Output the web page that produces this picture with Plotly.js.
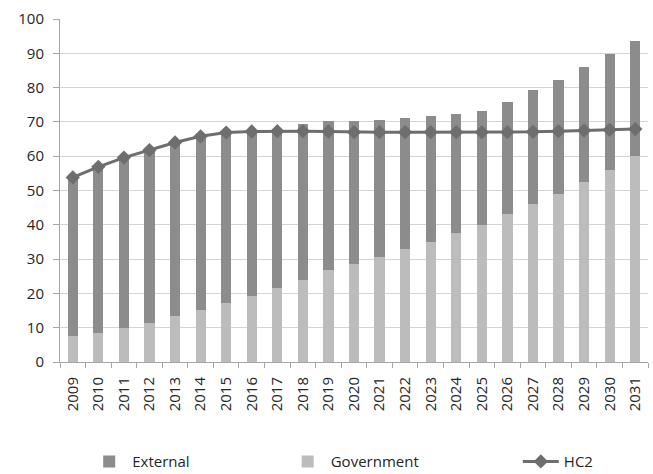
<!DOCTYPE html>
<html>
<head>
<meta charset="utf-8">
<script src="https://cdn.plot.ly/plotly-3.0.1.min.js"></script>
<style>html,body{margin:0;padding:0;background:#fff;} #chart{width:653px;height:474px;}</style>
</head>
<body>
<div id="chart"></div>
<script>
const years = ["2009","2010","2011","2012","2013","2014","2015","2016","2017","2018","2019","2020","2021","2022","2023","2024","2025","2026","2027","2028","2029","2030","2031"];
const government = [7.5, 8.6, 9.9, 11.5, 13.3, 15.3, 17.2, 19.2, 21.7, 24.0, 26.9, 28.7, 30.6, 32.9, 35.0, 37.7, 39.9, 43.1, 46.0, 49.1, 52.4, 56.1, 60.1];
const external = [46.5, 48.4, 49.6, 50.2, 50.7, 50.5, 49.8, 48.3, 46.3, 45.3, 43.4, 41.6, 40.1, 38.1, 36.6, 34.5, 33.4, 32.8, 33.3, 33.2, 33.6, 33.7, 33.5];
const hc2 = [53.8, 56.9, 59.6, 61.8, 64.0, 65.8, 66.9, 67.2, 67.3, 67.3, 67.2, 67.0, 67.0, 67.0, 67.0, 67.0, 67.0, 67.0, 67.1, 67.3, 67.5, 67.7, 67.9];
const yTicks = [0,10,20,30,40,50,60,70,80,90,100];

const font = "Open Sans, Liberation Sans, sans-serif";
const traces = [
  {type:"bar", name:"Government", x:years, y:government, marker:{color:"#bcbcbc"}, legend:"legend2", hoverinfo:"x+y+name"},
  {type:"bar", name:"External", x:years, y:external, marker:{color:"#8c8c8c"}, legend:"legend", hoverinfo:"x+y+name"},
  {type:"scatter", mode:"lines+markers", name:"HC2", x:years, y:hc2,
   line:{color:"#6e6e6e", width:3}, marker:{symbol:"diamond", size:11, color:"#6e6e6e"}, legend:"legend3"}
];
const legBase = {orientation:"h", xref:"container", yref:"container", yanchor:"middle", xanchor:"left", y:0.026,
  font:{family:font, size:15, color:"#262626"}, bgcolor:"rgba(0,0,0,0)", itemwidth:36};
const layout = {
  width:653, height:474,
  margin:{l:60, r:5, t:19, b:112, autoexpand:false},
  paper_bgcolor:"#fff", plot_bgcolor:"#fff",
  barmode:"stack", bargap:0.6,
  font:{family:font, size:15, color:"#262626"},
  showlegend:true,
  legend:Object.assign({}, legBase, {x:0.132}),
  legend2:Object.assign({}, legBase, {x:0.436}),
  legend3:Object.assign({}, legBase, {x:0.793}),
  xaxis:{type:"category", range:[-0.5, years.length - 0.5], tickangle:-90, tickson:"boundaries", ticks:"outside", ticklen:5, tickcolor:"#a6a6a6",
         showline:true, linecolor:"#a6a6a6", linewidth:1, showgrid:false, zeroline:false, automargin:false,
         ticklabelstandoff:8, tickfont:{family:font, size:15, color:"#262626"}},
  yaxis:{range:[0,100], tickvals:yTicks, ticktext:yTicks.map(String), ticks:"outside", ticklen:6, tickcolor:"#a6a6a6",
         showline:true, linecolor:"#a6a6a6", linewidth:1, gridcolor:"#d4d4d4", gridwidth:1, zeroline:false, automargin:false,
         ticklabelstandoff:6, tickfont:{family:font, size:15, color:"#262626"}}
};
Plotly.newPlot("chart", traces, layout, {displayModeBar:false, staticPlot:true});
</script>
</body>
</html>
